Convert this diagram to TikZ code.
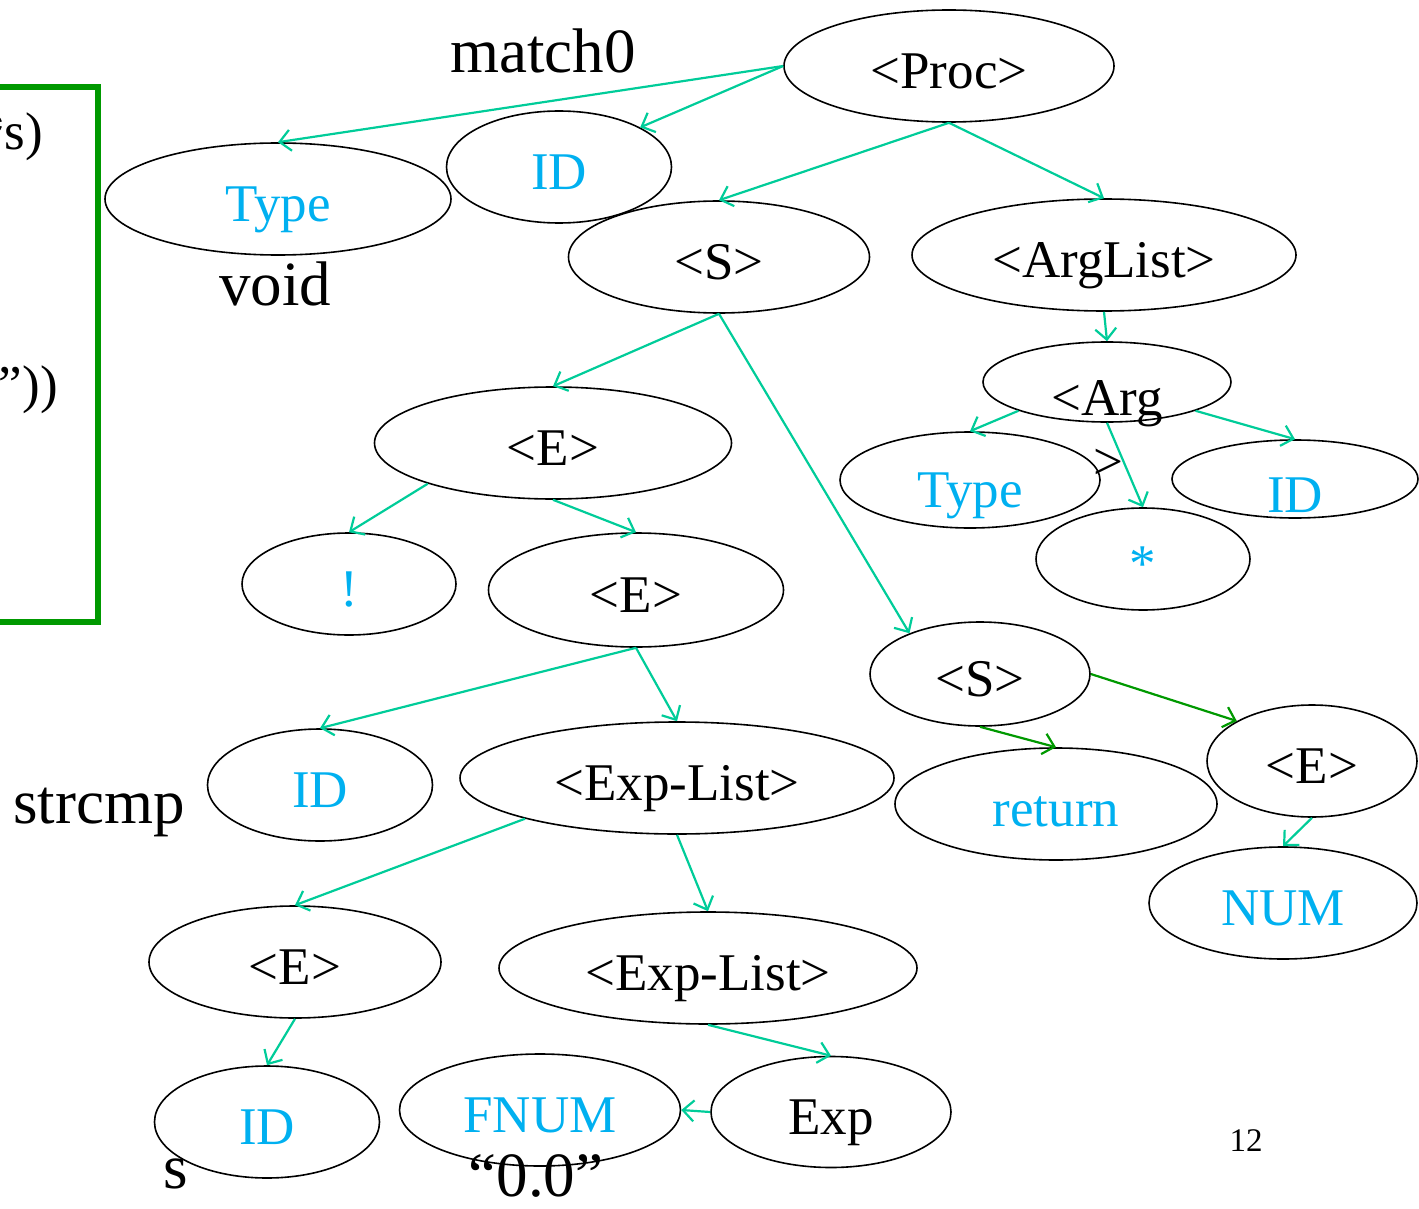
\documentclass[tikz,border=0pt]{standalone}
\usepackage{fontspec}
\setmainfont{Liberation Serif}
\usetikzlibrary{arrows.meta,shapes.geometric}
\definecolor{teal1}{RGB}{0,204,153}
\definecolor{dgreen}{RGB}{0,153,0}
\definecolor{tblue}{RGB}{0,176,240}
\begin{document}
\begin{tikzpicture}[x=1pt,y=-1pt,
  el/.style={ellipse,draw,line width=1.6pt,inner sep=0pt,
    font=\fontsize{53}{60}\selectfont,text height=46pt,text depth=1pt},
  bl/.style={text=tblue},
  lab/.style={anchor=base,inner sep=0pt,font=\fontsize{63}{70}\selectfont},
  arr/.style={draw=teal1,line width=2.2pt,-{Straight Barb[length=11pt,width=21pt,line width=2.2pt]}},
  darr/.style={arr,draw=dgreen}]
\useasboundingbox (0,0) rectangle (1419,1209);
% green box
\draw[dgreen,line width=6pt] (-10,87) -- (98,87) -- (98,622) -- (-10,622);
\node[anchor=base east,inner sep=0pt,font=\fontsize{53}{60}\selectfont] (l1) at (43,150) {*s)};
\node[anchor=base east,inner sep=0pt,font=\fontsize{53}{60}\selectfont] (l2) at (58,402) {”))};
% nodes
\node[el,minimum width=330pt,minimum height=112pt] (proc) at (949,66) {<Proc>};
\node[el,bl,minimum width=346pt,minimum height=112pt] (type1) at (278,199) {Type};
\node[el,bl,minimum width=225pt,minimum height=112pt] (id1) at (559,167) {ID};
\node[el,minimum width=301pt,minimum height=112pt] (s1) at (719,257) {<S>};
\node[el,minimum width=384pt,minimum height=112pt] (arglist) at (1104,255) {<ArgList>};
\node[el,minimum width=248pt,minimum height=80pt] (arg) at (1107,382) {};
\node[el,bl,minimum width=260pt,minimum height=96pt] (type2) at (970,480) {\raisebox{-5pt}{Type}};
\node[el,bl,minimum width=214pt,minimum height=102pt] (star) at (1143,559) {*};
\node[el,bl,minimum width=246pt,minimum height=78pt] (id2) at (1295,479) {\raisebox{-11pt}{ID}};
\node[lab,font=\fontsize{53}{60}\selectfont] (argtxt) at (1107,415) {<Arg};
\node[lab,font=\fontsize{53}{60}\selectfont] (argclose) at (1108,479) {>};
\node[el,minimum width=357pt,minimum height=112pt] (e1) at (553,443) {<E>};
\node[el,bl,minimum width=214pt,minimum height=102pt] (bang) at (349,584) {!};
\node[el,minimum width=295pt,minimum height=114pt] (e2) at (636,590) {<E>};
\node[el,minimum width=220pt,minimum height=104pt] (s2) at (980,674) {<S>};
\node[el,bl,minimum width=322pt,minimum height=112pt] (ret) at (1056,804) {return};
\node[el,minimum width=210pt,minimum height=112pt] (e4) at (1312,761) {<E>};
\node[el,bl,minimum width=268pt,minimum height=112pt] (num) at (1283,903) {NUM};
\node[el,bl,minimum width=225pt,minimum height=112pt] (id3) at (320,785) {ID};
\node[el,minimum width=434pt,minimum height=112pt] (el1) at (677,778) {<Exp-List>};
\node[el,minimum width=292pt,minimum height=112pt] (e3) at (295,962) {<E>};
\node[el,minimum width=418pt,minimum height=112pt] (el2) at (708,968) {<Exp-List>};
\node[el,bl,minimum width=225pt,minimum height=112pt] (id4) at (267,1122) {ID};
\node[el,bl,minimum width=281pt,minimum height=112pt] (fnum) at (540,1110) {FNUM};
\node[el,minimum width=240pt,minimum height=111pt] (exp) at (831,1112) {Exp};
% labels
\node[lab] (match) at (543,73) {match0};
\node[lab] (void) at (275,305) {void};
\node[lab] (strcmp) at (99,823) {strcmp};
\node[lab] (s) at (176,1188) {s};
\node[lab] (zero) at (536,1196) {“0.0”};
\node[lab,font=\fontsize{33}{40}\selectfont] (pg) at (1246,1151) {12};
% connectors
\draw[arr] (proc.west) -- (type1.north);
\draw[arr] (proc.west) -- (id1.26);
\draw[arr] (proc.south) -- (s1.north);
\draw[arr] (proc.south) -- (arglist.north);
\draw[arr] (s1.south) -- (e1.north);
\draw[arr] (s1.south) -- (s2.150);
\draw[arr] (arglist.south) -- (arg.north);
\draw[arr] (arg.198) -- (type2.north);
\draw[arr] (arg.south) -- (star.north);
\draw[arr] (arg.-18) -- (id2.north);
\draw[arr] (e1.198) -- (bang.north);
\draw[arr] (e1.south) -- (e2.north);
\draw[arr] (e2.south) -- (id3.north);
\draw[arr] (e2.south) -- (el1.north);
\draw[arr] (el1.195) -- (e3.north);
\draw[arr] (el1.south) -- (el2.north);
\draw[arr] (e3.south) -- (id4.north);
\draw[arr] (el2.south) -- (exp.north);
\draw[arr] (exp.west) -- (fnum.east);
\draw[darr] (s2.south) -- (ret.north);
\draw[darr] (s2.east) -- (e4.152);
\draw[arr] (e4.south) -- (num.north);
\end{tikzpicture}
\end{document}
